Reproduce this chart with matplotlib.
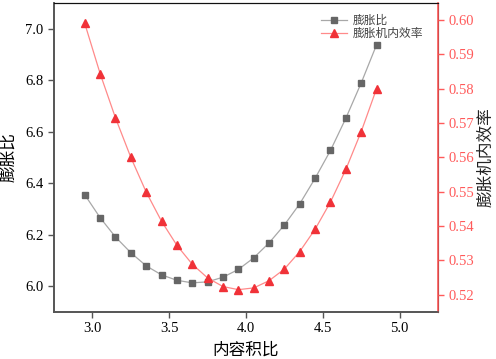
import numpy as np
import matplotlib.pyplot as plt

plt.rcParams["font.family"] = ["Liberation Serif", "Noto Sans CJK SC"]
plt.rcParams["axes.unicode_minus"] = False

# data
ratio = [2.95, 3.05, 3.15, 3.25, 3.35, 3.45, 3.55, 3.65, 3.75, 3.85,
         3.95, 4.05, 4.15, 4.25, 4.35, 4.45, 4.55, 4.65, 4.75, 4.85]
expansion = [6.355, 6.266, 6.191, 6.130, 6.079, 6.044, 6.023, 6.013, 6.017, 6.035,
             6.065, 6.110, 6.168, 6.238, 6.320, 6.419, 6.527, 6.652, 6.789, 6.937]
efficiency = [0.5990, 0.5844, 0.5715, 0.5600, 0.5499, 0.5414, 0.5344, 0.5289, 0.5249, 0.5224,
              0.5215, 0.5220, 0.5241, 0.5275, 0.5326, 0.5391, 0.5470, 0.5565, 0.5675, 0.5800]

red = "#f03238"
fig, ax = plt.subplots(figsize=(4.96, 3.59), dpi=100)
fig.subplots_adjust(left=0.109, right=0.883, top=0.992, bottom=0.131)

l1, = ax.plot(ratio, expansion, "-", color="#a8a8a8", lw=0.9,
              marker="s", ms=5, mfc="#666666", mec="#666666", label="膨胀比")
ax.set_xlim(2.75, 5.25)
ax.set_ylim(5.9, 7.1)
ax.set_xticks([3.0, 3.5, 4.0, 4.5, 5.0])
ax.set_yticks([6.0, 6.2, 6.4, 6.6, 6.8, 7.0])
ax.set_xlabel("内容积比", fontsize=12, labelpad=5)
ax.set_ylabel("膨胀比", fontsize=12, labelpad=6)
ax.tick_params(labelsize=10.5, color="#555555", length=4, width=1)

ax2 = ax.twinx()
l2, = ax2.plot(ratio, efficiency, "-", color="#ff8a8a", lw=0.9,
               marker="^", ms=6, mfc=red, mec=red, label="膨胀机内效率")
ax2.set_ylim(0.515, 0.605)
ax2.set_yticks([0.52, 0.53, 0.54, 0.55, 0.56, 0.57, 0.58, 0.59, 0.60])
ax2.set_yticklabels([f"{v:.2f}" for v in [0.52, 0.53, 0.54, 0.55, 0.56, 0.57, 0.58, 0.59, 0.60]])
ax2.set_ylabel("膨胀机内效率", fontsize=12, color="#222222", labelpad=3)
ax2.tick_params(axis="y", labelsize=10.5, colors="#ff5a5a", length=4, width=1)
ax2.spines["right"].set_color("#ff5a5a")
ax2.spines["right"].set_linewidth(1.2)

for a in (ax, ax2):
    a.spines["left"].set_color("#555555")
    a.spines["bottom"].set_color("#555555")
    a.spines["top"].set_color("#111111")
    a.spines["left"].set_linewidth(1.2)
    a.spines["bottom"].set_linewidth(1.2)

leg = ax.legend(handles=[l1, l2], loc="upper right", bbox_to_anchor=(0.99, 0.995),
                frameon=False, fontsize=8.5, handlelength=2.2, labelspacing=0.1,
                handletextpad=0.5)
for t in leg.get_texts():
    t.set_color("#444444")

fig.savefig("out.png", dpi=100)
